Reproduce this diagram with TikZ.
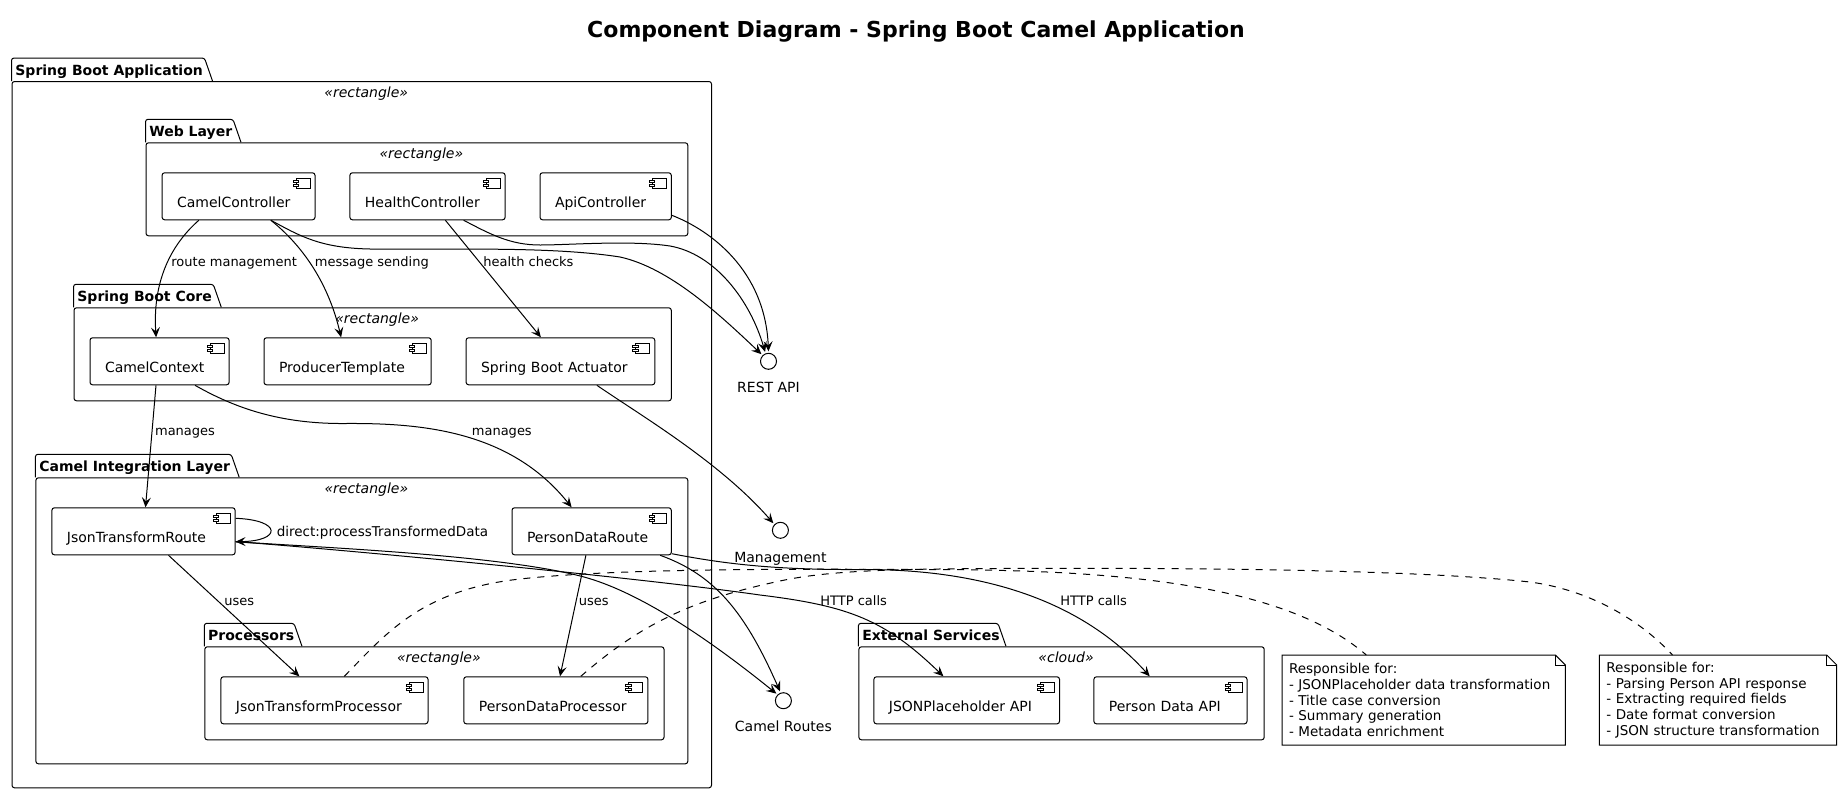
\documentclass[tikz,border=0pt]{standalone}
\usepackage{fontspec}
\setmainfont{DejaVu Sans}
\usetikzlibrary{arrows.meta,positioning}

\newcommand{\pkgbox}[8]{%
  \node[pkg, minimum width={(#4-#2)*.5pt}, minimum height={(#5-#3)*.5pt}] (#1) at (#2,#3) {};
  \draw[pkgline] (#1.north west) -- ++(0,-23) -- ++(#6-8,0) -- ++(8,23);
  \node[pkgtitle] (#1Title) at ([shift={(3.5,-6)}]#1.north west) {#7};
  \node[pkgstereo] (#1Stereo) at ([shift={(4.5,16.5)}]#1.north) {#8};
}

\begin{document}
\begin{tikzpicture}[
    x=.5pt, y=-.5pt,
    pkg/.style={draw, line width=.5pt, rounded corners=1.25pt, anchor=north west, inner sep=0pt},
    pkgline/.style={line width=.5pt, rounded corners=1.25pt},
    pkgtitle/.style={anchor=base west, inner sep=0pt, font=\fontsize{7}{8.4}\selectfont\bfseries},
    pkgstereo/.style={anchor=base, inner sep=0pt, font=\fontsize{7}{8.4}\selectfont\itshape},
    comp/.style={draw, line width=.5pt, rounded corners=1.25pt, anchor=north west, align=left,
        minimum height=23.5pt, text width={(#1)*.5pt-15pt}, inner xsep=7.5pt, inner ysep=0pt,
        text height=17.5pt, text depth=6pt, font=\fontsize{7}{8.4}\selectfont,
        path picture={
            \draw[sharp corners] ([shift={(-5,5.4)}]path picture bounding box.north east) rectangle ++(-14,10);
            \draw[sharp corners, fill=white] ([shift={(-16.5,7.7)}]path picture bounding box.north east) rectangle ++(-5.5,2);
            \draw[sharp corners, fill=white] ([shift={(-16.5,11.7)}]path picture bounding box.north east) rectangle ++(-5.5,2);
        }},
    iface/.style={circle, draw, line width=.5pt, minimum size=8pt, inner sep=0pt, outer sep=1pt},
    ifacetext/.style={inner sep=0pt, text height=5.5pt, text depth=1.5pt, font=\fontsize{7}{8.4}\selectfont},
    edgelbl/.style={anchor=base west, inner sep=0pt, font=\fontsize{6.5}{7.8}\selectfont},
    conn/.style={-{Stealth[length=5pt, width=4.5pt, inset=2pt]}, line width=.5pt},
    notelink/.style={line width=.5pt, dash pattern=on 3.5pt off 3.5pt},
    notebox/.style={anchor=north west, align=left, minimum height=44.65pt, inner xsep=3.3pt, inner ysep=0pt,
        text width={(#1)*.5pt-6.6pt}, font=\fontsize{6.75}{7.85}\selectfont}
    ]
    \useasboundingbox (0,0) rectangle (1841,793);

    \node[anchor=base, inner sep=0pt, font=\fontsize{11}{13}\selectfont\bfseries] (diagramTitle) at (916,37.5)
        {Component Diagram - Spring Boot Camel Application};

    % packages
    \pkgbox{springApp}{11.5}{81}{711}{787.3}{201}{Spring Boot Application}{«rectangle»}
    \pkgbox{webLayer}{145.5}{142.3}{687.3}{235.3}{95.5}{Web Layer}{«rectangle»}
    \pkgbox{bootCore}{73.5}{307.3}{670.8}{400.3}{147.8}{Spring Boot Core}{«rectangle»}
    \pkgbox{camelLayer}{35.4}{477.3}{687.3}{763.3}{203.8}{Camel Integration Layer}{«rectangle»}
    \pkgbox{processors}{204.3}{646.3}{663.5}{739.3}{97.7}{Processors}{«rectangle»}
    \pkgbox{extServices}{858.4}{646.3}{1263.7}{739.3}{147.6}{External Services}{«cloud»}

    % components
    \node[comp=152.9] (camelController) at (161.6,172.3) {CamelController};
    \node[comp=155.2] (healthController) at (349.4,172.3) {HealthController};
    \node[comp=131.3] (apiController) at (539.5,172.3) {ApiController};
    \node[comp=139.1] (camelContext) at (89.5,337.3) {CamelContext};
    \node[comp=167.2] (producerTemplate) at (263.5,337.3) {ProducerTemplate};
    \node[comp=188.7] (bootActuator) at (465.6,337.3) {Spring Boot Actuator};
    \node[comp=183.2] (jsonRoute) at (51.4,507.3) {JsonTransformRoute};
    \node[comp=159.3] (personRoute) at (511.5,507.3) {PersonDataRoute};
    \node[comp=207.1] (jsonProcessor) at (220.4,676.3) {JsonTransformProcessor};
    \node[comp=184.1] (personProcessor) at (463.3,676.3) {PersonDataProcessor};
    \node[comp=185.6] (jsonApi) at (873.4,676.3) {JSONPlaceholder API};
    \node[comp=153.1] (personApi) at (1093.4,676.3) {Person Data API};

    % interfaces
    \node[iface] (restApi) at (768.5,361.3) {};
    \node[iface] (management) at (780.4,530.3) {};
    \node[iface] (camelRoutes) at (783.4,700.7) {};
    \node[ifacetext, below=4.75pt of restApi] (restApiText) {REST API};
    \node[ifacetext, below=5.5pt of management] (managementText) {Management};
    \node[ifacetext, below=4.5pt of camelRoutes] (camelRoutesText) {Camel Routes};

    % notes
    \node[notebox=282.5] (jsonNote) at (1282,655) {Responsible for:\\- JSONPlaceholder data transformation\\- Title case conversion\\- Summary generation\\- Metadata enrichment};
    \node[notebox=236.5] (personNote) at (1599.4,655) {Responsible for:\\- Parsing Person API response\\- Extracting required fields\\- Date format conversion\\- JSON structure transformation};
    \foreach \n in {jsonNote,personNote} {
        \draw[line width=.5pt] (\n.north west) -- ([xshift=-5pt]\n.north east) -- ([yshift=-5pt]\n.north east)
            -- (\n.south east) -- (\n.south west) -- cycle;
        \draw[line width=.5pt] ([xshift=-5pt]\n.north east) -- ([shift={(-5pt,-5pt)}]\n.north east) -- ([yshift=-5pt]\n.north east);
    }

    % connectors
    \draw[conn] ([shift={(37.2,0)}]camelController.south west) .. controls (165,250) and (153,290) .. ([shift={(66.6,0)}]camelContext.north west);
    \draw[conn] ([shift={(109.3,0)}]camelController.south west) .. controls (308,250) and (330,290) .. ([shift={(77.6,0)}]producerTemplate.north west);
    \draw[conn] ([shift={(109.3,0)}]camelController.south west) .. controls (300,236) and (320,248) .. (370,249)
        .. controls (450,250) and (550,246) .. (620,257) .. controls (670,268) and (720,315) .. (restApi.135);
    \draw[conn] ([shift={(96,0)}]healthController.south west) -- ([shift={(75.3,0)}]bootActuator.north west);
    \draw[conn] ([shift={(114.3,0)}]healthController.south west) .. controls (490,234) and (510,245) .. (540,245)
        .. controls (570,245) and (630,240) .. (670,246) .. controls (715,254) and (750,300) .. (restApi.110);
    \draw[conn] ([shift={(0,-5)}]apiController.south east) .. controls (710,230) and (765,270) .. (restApi.90);
    \draw[conn] ([shift={(66.5,0)}]camelContext.south west) -- ([shift={(94.1,0)}]jsonRoute.north west);
    \draw[conn] ([shift={(105.5,0)}]camelContext.south west) .. controls (235,408) and (280,424) .. (345,423.5)
        .. controls (420,423) and (510,430) .. ([shift={(60.1,0)}]personRoute.north west);
    \draw[conn] ([shift={(131.3,0)}]bootActuator.south west) .. controls (640,415) and (720,462) .. (management.135);
    \draw[conn] ([shift={(0,11)}]jsonRoute.north east) .. controls (282,520) and (282,541) .. ([shift={(0,34.4)}]jsonRoute.north east);
    \draw[conn] ([shift={(117.1,0)}]jsonRoute.south west) -- ([shift={(79,0)}]jsonProcessor.north west);
    \draw[conn] ([shift={(74.4,0)}]personRoute.south west) -- ([shift={(96.7,0)}]personProcessor.north west);
    \draw[conn] ([shift={(0,34.4)}]jsonRoute.north east) .. controls (300,546) and (620,575) .. (760,595)
        .. controls (850,606) and (885,620) .. ([shift={(70,0)}]jsonApi.north west);
    \draw[conn] ([shift={(0,34.4)}]jsonRoute.north east) .. controls (330,548) and (500,555) .. (583,576.7)
        .. controls (640,592) and (710,640) .. (camelRoutes.135);
    \draw[conn] ([shift={(0,-1.6)}]personRoute.south east) .. controls (720,563) and (770,570) .. (860,569.5)
        .. controls (1000,568.7) and (1090,610) .. ([shift={(56.3,0)}]personApi.north west);
    \draw[conn] ([shift={(148.7,0)}]personRoute.south west) .. controls (715,575) and (745,612) .. (camelRoutes.110);

    % note links
    \draw[notelink] ([shift={(123.9,0)}]jsonProcessor.north west) .. controls (385,635) and (420,590) .. (520,579)
        .. controls (620,568) and (800,569) .. (930,569.5) .. controls (1100,570) and (1280,580) .. ([shift={(84.3,0)}]jsonNote.north west);
    \draw[notelink] ([shift={(117.5,0)}]personProcessor.north west) .. controls (640,625) and (690,600) .. (780,581)
        .. controls (830,570) and (900,569) .. (1000,568.5) .. controls (1200,567.5) and (1420,570) .. (1530,582)
        .. controls (1590,590) and (1640,620) .. ([shift={(73.1,0)}]personNote.north west);

    % connector labels
    \node[edgelbl] (routeLbl) at (171,266) {route management};
    \node[edgelbl] (messageLbl) at (314.5,266) {message sending};
    \node[edgelbl] (healthLbl) at (483,266) {health checks};
    \node[edgelbl] (managesLeftLbl) at (154.7,435) {manages};
    \node[edgelbl] (managesRightLbl) at (471.5,435) {manages};
    \node[edgelbl, font=\fontsize{6.75}{7.8}\selectfont] (directLbl) at (276.4,536) {direct:processTransformedData};
    \node[edgelbl] (usesLeftLbl) at (224,605) {uses};
    \node[edgelbl] (usesRightLbl) at (578.5,605) {uses};
    \node[edgelbl] (httpLeftLbl) at (820,605) {HTTP calls};
    \node[edgelbl] (httpRightLbl) at (1060,605) {HTTP calls};
\end{tikzpicture}
\end{document}
